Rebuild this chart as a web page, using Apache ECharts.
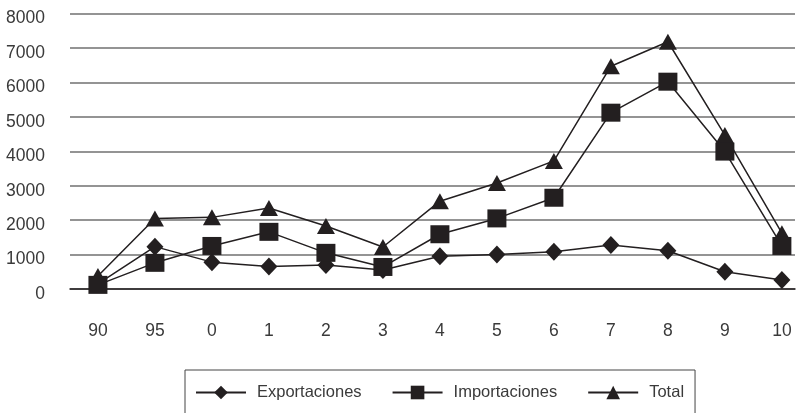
<!DOCTYPE html>
<html>
<head>
<meta charset="utf-8">
<script src="https://cdn.jsdelivr.net/npm/echarts@6/dist/echarts.min.js"></script>
<style>
  html, body { margin: 0; padding: 0; background: #fff; }
  #chart { width: 805px; height: 413px; }
</style>
</head>
<body>
<div id="chart"></div>
<script>
var categories = ['90', '95', '0', '1', '2', '3', '4', '5', '6', '7', '8', '9', '10'];
var exportaciones = [150, 1230, 780, 650, 700, 550, 950, 1000, 1080, 1280, 1110, 500, 260];
var importaciones = [120, 760, 1250, 1660, 1050, 640, 1590, 2050, 2650, 5120, 6020, 3990, 1250];
var total = [380, 2050, 2080, 2350, 1830, 1220, 2550, 3080, 3720, 6470, 7180, 4470, 1620];

var ink = '#231f20';
var textColor = '#3a3a3a';
var font = 'Liberation Sans';

function toPoints(arr) {
  return arr.map(function (v, i) { return [i, v]; });
}

var chart = echarts.init(document.getElementById('chart'), null, { renderer: 'canvas' });

var option = {
  animation: false,
  grid: {
    left: 70,
    right: 10,
    top: 13.5,
    bottom: 124
  },
  xAxis: {
    type: 'value',
    min: -0.49,
    max: 12.23,
    axisLine: { show: true, lineStyle: { color: ink, width: 1.5 } },
    axisTick: { show: false },
    splitLine: { show: false },
    axisLabel: {
      customValues: categories.map(function (c, i) { return i; }),
      formatter: function (v) { return categories[Math.round(v)]; },
      margin: 33,
      color: textColor,
      fontFamily: font,
      fontSize: 17.5
    }
  },
  yAxis: {
    type: 'value',
    min: 0,
    max: 8000,
    interval: 1000,
    axisLine: { show: false },
    axisTick: { show: false },
    splitLine: { lineStyle: { color: '#707070', width: 1.5 } },
    axisLabel: {
      margin: 25,
      verticalAlign: 'top',
      lineHeight: 10,
      formatter: function (v) { return String(v); },
      color: textColor,
      fontFamily: font,
      fontSize: 17.5
    }
  },
  legend: {
    left: 185,
    top: 370,
    data: ['Exportaciones', 'Importaciones', 'Total'],
    itemWidth: 50,
    itemHeight: 17,
    itemGap: 30,
    borderColor: '#444',
    borderWidth: 1,
    borderRadius: 0,
    padding: [14, 11, 30, 10],
    textStyle: {
      color: textColor,
      fontFamily: font,
      fontSize: 16.5,
      padding: [0, 0, 0, 6]
    }
  },
  series: [
    {
      name: 'Exportaciones',
      type: 'line',
      data: toPoints(exportaciones),
      symbol: 'diamond',
      symbolSize: [17, 18],
      z: 2,
      lineStyle: { color: ink, width: 1.5 },
      itemStyle: { color: ink }
    },
    {
      name: 'Total',
      type: 'line',
      data: toPoints(total),
      symbol: 'triangle',
      symbolSize: [18, 16],
      z: 3,
      lineStyle: { color: ink, width: 1.5 },
      itemStyle: { color: ink }
    },
    {
      name: 'Importaciones',
      type: 'line',
      data: toPoints(importaciones),
      symbol: 'rect',
      symbolSize: [19, 18],
      z: 4,
      lineStyle: { color: ink, width: 1.5 },
      itemStyle: { color: ink }
    }
  ]
};

chart.setOption(option);
</script>
</body>
</html>
